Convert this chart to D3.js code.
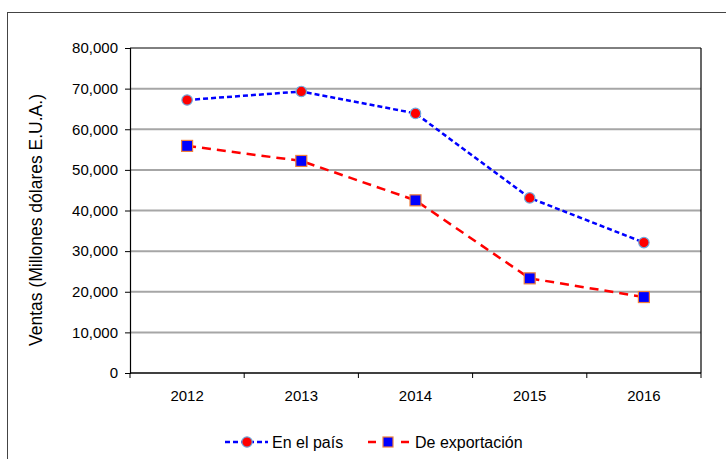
<!DOCTYPE html>
<html>
<head>
<meta charset="utf-8">
<script src="https://cdn.jsdelivr.net/npm/d3@7"></script>
<style>
  body { margin: 0; background: #fff; }
  text { font-family: "Liberation Sans", Arial, sans-serif; fill: #000; }
</style>
</head>
<body>
<div id="chart"></div>
<script>
var years = ["2012", "2013", "2014", "2015", "2016"]
var enElPais = [67200, 69300, 63900, 43100, 32100]
var deExportacion = [55900, 52200, 42500, 23300, 18700]
var yTicks = [0, 10000, 20000, 30000, 40000, 50000, 60000, 70000, 80000]
var seriesNames = ["En el país", "De exportación"]

var W = 726, H = 459
var margin = {left: 130, top: 48, right: 25, bottom: 86}
var pw = W - margin.left - margin.right
var ph = H - margin.top - margin.bottom

var svg = d3.select("#chart").append("svg").attr("width", W).attr("height", H)

// outer frame (runs off the right/bottom edge like the original)
svg.append("rect").attr("x", 7.5).attr("y", 12.5).attr("width", W + 10).attr("height", H + 10)
  .attr("fill", "none").attr("stroke", "#444").attr("stroke-width", 1)

var g = svg.append("g").attr("transform", "translate(" + margin.left + "," + margin.top + ")")

var x = d3.scaleBand().domain(years).range([0, pw])
var y = d3.scaleLinear().domain([0, 80000]).range([ph, 0])

// gridlines
g.selectAll(".grid").data(yTicks.slice(1)).enter().append("line")
  .attr("x1", 0).attr("x2", pw)
  .attr("y1", function(d) { return y(d) }).attr("y2", function(d) { return y(d) })
  .attr("stroke", function(d) { return d === 80000 ? "#000" : "#a6a6a6" })
  .attr("stroke-width", function(d) { return d === 80000 ? 1 : 2 })

// right border
g.append("line").attr("x1", pw).attr("x2", pw).attr("y1", 0).attr("y2", ph)
  .attr("stroke", "#000").attr("stroke-width", 1.2)

// y axis
var yAxis = d3.axisLeft(y).tickValues(yTicks).tickSize(5).tickPadding(7)
  .tickFormat(d3.format(","))
var ya = g.append("g").call(yAxis)
ya.select(".domain").attr("stroke", "#000").attr("stroke-width", 1.2)
ya.selectAll("text").style("font-size", "15px")

// x axis: ticks at category boundaries
var xa = g.append("g").attr("transform", "translate(0," + ph + ")")
xa.append("line").attr("x1", 0).attr("x2", pw).attr("stroke", "#000").attr("stroke-width", 1.5)
var bounds = years.map(function(d) { return x(d) }).concat([pw])
xa.selectAll(".tk").data(bounds).enter().append("line")
  .attr("x1", function(d) { return d }).attr("x2", function(d) { return d })
  .attr("y1", 0).attr("y2", 5).attr("stroke", "#000")
xa.selectAll(".lbl").data(years).enter().append("text")
  .attr("x", function(d) { return x(d) + x.bandwidth() / 2 })
  .attr("y", 28).attr("text-anchor", "middle").style("font-size", "15px")
  .text(function(d) { return d })

// y label
svg.append("text")
  .attr("transform", "translate(42,220) rotate(-90)")
  .attr("text-anchor", "middle").style("font-size", "17.5px")
  .text("Ventas (Millones dólares E.U.A.)")

var cx = function(d, i) { return x(years[i]) + x.bandwidth() / 2 }
var line = d3.line().x(cx).y(function(d) { return y(d) })

// export series
g.append("path").datum(deExportacion).attr("d", line)
  .attr("fill", "none").attr("stroke", "#ff0000").attr("stroke-width", 2.5)
  .attr("stroke-dasharray", "9,6")
g.selectAll(".sq").data(deExportacion).enter().append("rect")
  .attr("x", function(d, i) { return cx(d, i) - 5.5 })
  .attr("y", function(d) { return y(d) - 5.5 })
  .attr("width", 11).attr("height", 11)
  .attr("fill", "#0000ff").attr("stroke", "#f0803c").attr("stroke-width", 1.2)

// domestic series
g.append("path").datum(enElPais).attr("d", line)
  .attr("fill", "none").attr("stroke", "#0000ff").attr("stroke-width", 2.5)
  .attr("stroke-dasharray", "5,3")
g.selectAll(".ci").data(enElPais).enter().append("circle")
  .attr("cx", cx).attr("cy", function(d) { return y(d) })
  .attr("r", 5.2)
  .attr("fill", "#ff0000").attr("stroke", "#6fa8dc").attr("stroke-width", 1.2)

// legend
var lg = svg.append("g").attr("transform", "translate(0,442)")
lg.append("line").attr("x1", 225).attr("x2", 268).attr("y1", 0).attr("y2", 0)
  .attr("stroke", "#0000ff").attr("stroke-width", 2.5).attr("stroke-dasharray", "5,3")
lg.append("circle").attr("cx", 247).attr("cy", 0).attr("r", 5.2)
  .attr("fill", "#ff0000").attr("stroke", "#6fa8dc").attr("stroke-width", 1.2)
lg.append("text").attr("x", 272).attr("y", 5.5).style("font-size", "16px").text(seriesNames[0])

lg.append("line").attr("x1", 368).attr("x2", 410).attr("y1", 0).attr("y2", 0)
  .attr("stroke", "#ff0000").attr("stroke-width", 2.5).attr("stroke-dasharray", "8,25")
lg.append("rect").attr("x", 383).attr("y", -5).attr("width", 10).attr("height", 10)
  .attr("fill", "#0000ff").attr("stroke", "#f0803c").attr("stroke-width", 1.2)
lg.append("text").attr("x", 415).attr("y", 5.5).style("font-size", "16px").text(seriesNames[1])
</script>
</body>
</html>
